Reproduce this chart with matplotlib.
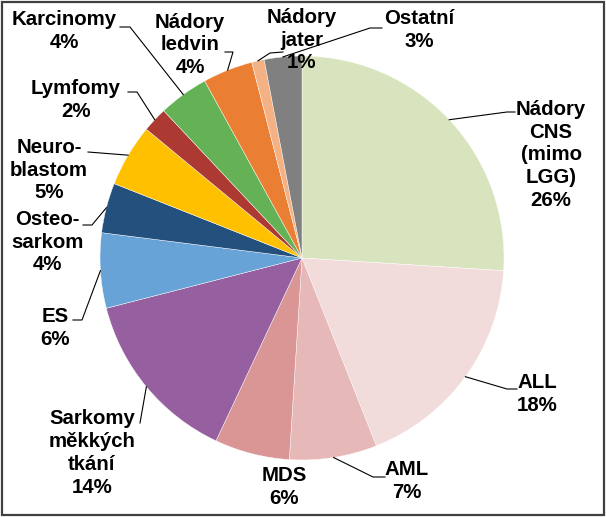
import numpy as np
import matplotlib
matplotlib.use('Agg')
from matplotlib import pyplot as plt
from matplotlib.patches import Rectangle

labels = ['Nádory\nCNS\n(mimo\nLGG)', 'ALL', 'AML', 'MDS', 'Sarkomy\nměkkých\ntkání', 'ES',
          'Osteo-\nsarkom', 'Neuro-\nblastom', 'Lymfomy', 'Karcinomy', 'Nádory\nledvin',
          'Nádory\njater', 'Ostatní']
values = [26, 18, 7, 6, 14, 6, 4, 5, 2, 4, 4, 1, 3]
colors = ['#D7E4BD', '#F2DCDB', '#E6B9B8', '#D99694', '#955FA0', '#67A3D7',
          '#24507E', '#FFC000', '#AD3A32', '#65B256', '#EA7E33', '#F4B183', '#808080']

# label layout in pixel coords (x, y of text centre), plus leader elbow/end points
text_pos = [(551, 155), (537, 394), (407, 481), (284, 487), (92, 453), (55, 328),
            (47, 242), (49, 170), (76, 100), (64, 31), (190, 45), (302, 40), (419, 30)]
leaders = [[(507, 112), (515, 112)], [(507, 389), (517, 389)], [(373, 477), (385, 477)], None,
           [(140, 423)], [(82, 320), (73, 320)], [(92, 225), (83, 225)], [(88, 152)],
           [(137, 92), (128, 92)], [(130, 27), (120, 27)], [(233, 52), (225, 52)],
           [(270, 53), (283, 52)], [(370, 28), (382, 28)]]

W, H = 606, 517
cx, cy, r = 302, 258, 202

plt.rcParams['font.family'] = ['Liberation Sans', 'DejaVu Sans']

fig = plt.figure(figsize=(W / 100, H / 100), dpi=100)
ax = fig.add_axes([0, 0, 1, 1])

# inverted y axis -> start at -90 and go counterclockwise in data space
wedges, _ = ax.pie(values, colors=colors, startangle=-90, counterclock=True,
                   center=(cx, cy), radius=r, frame=True,
                   wedgeprops=dict(edgecolor='white', linewidth=0.3))
ax.set_xlim(0, W)
ax.set_ylim(H, 0)
ax.set_aspect('equal')
ax.axis('off')

for w, lab, val, (tx, ty), pts in zip(wedges, labels, values, text_pos, leaders):
    ax.text(tx, ty, f'{lab}\n{val}%', ha='center', va='center', fontsize=14.7,
            fontweight='bold', linespacing=1.25, zorder=5)
    if pts is None:
        continue
    th = np.deg2rad((w.theta1 + w.theta2) / 2)
    ax0 = cx + r * np.cos(th)
    ay0 = cy + r * np.sin(th)
    xs = [ax0] + [p[0] for p in pts]
    ys = [ay0] + [p[1] for p in pts]
    ax.plot(xs, ys, color='black', lw=0.8, zorder=4)

ax.add_patch(Rectangle((1.5, 1.5), W - 4, H - 4, fill=False, edgecolor='#404040', lw=1.6, zorder=6))

fig.savefig('out.png', dpi=100)
plt.close()
